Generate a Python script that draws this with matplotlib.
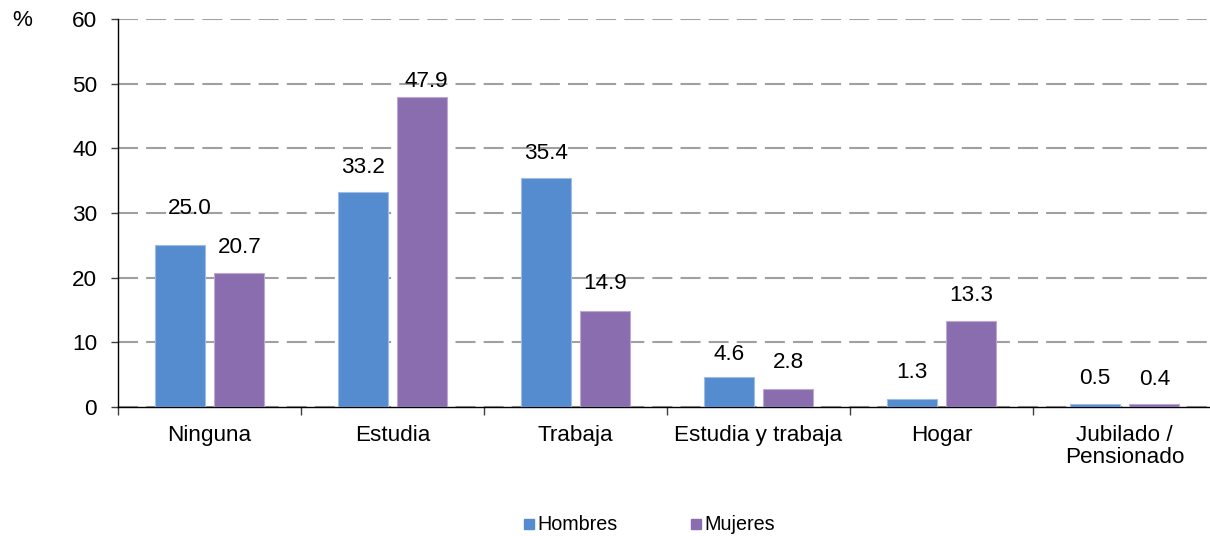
import numpy as np
import matplotlib
matplotlib.use('Agg')
import matplotlib.pyplot as plt
from matplotlib.lines import Line2D

plt.rcParams['font.family'] = ['Liberation Sans', 'DejaVu Sans']

# datos
categorias = ['Ninguna', 'Estudia', 'Trabaja', 'Estudia y trabaja', 'Hogar',
              'Jubilado /\nPensionado']
hombres = [25.0, 33.2, 35.4, 4.6, 1.3, 0.5]
mujeres = [20.7, 47.9, 14.9, 2.8, 13.3, 0.4]
y_ticks = [0, 10, 20, 30, 40, 50, 60]

# desplazamiento de las etiquetas (pixeles), como en el original
off_h = [(10, 37), (0, 25), (0, 25), (0, 23), (0, 26), (0, 25)]
off_m = [(0, 26), (4, 16), (0, 27), (0, 26), (0, 25), (0, 25)]

col_h = '#558BCF'
col_m = '#8A6DAE'
fs = 16.2

fig = plt.figure(figsize=(12.10, 5.36), dpi=100)
ax = fig.add_axes([118 / 1210, 1 - 407 / 536, 1098 / 1210, 388 / 536])

x = np.arange(len(categorias))
w = 0.273
ax.bar(x - 0.163, hombres, w, color=col_h, edgecolor='#9DBDE6', linewidth=0.8, zorder=3)
ax.bar(x + 0.163, mujeres, w, color=col_m, edgecolor='#BBA8D3', linewidth=0.8, zorder=3)

for i in range(len(x)):
    ax.annotate(f'{hombres[i]:.1f}', (x[i] - 0.163, hombres[i]), xytext=off_h[i],
                textcoords='offset pixels', ha='center', va='center', fontsize=fs, zorder=4)
    ax.annotate(f'{mujeres[i]:.1f}', (x[i] + 0.163, mujeres[i]), xytext=off_m[i],
                textcoords='offset pixels', ha='center', va='center', fontsize=fs, zorder=4)

ax.set_xlim(-0.5, len(x) - 0.5)
ax.set_ylim(0, 60)
ax.set_yticks(y_ticks)
ax.yaxis.grid(True, color='#A0A0A0', linewidth=1.5, linestyle=(0, (9.6, 3.9)), zorder=0)
ax.set_axisbelow(True)

ax.set_xticks(x)
ax.set_xticklabels(categorias, fontsize=fs, linespacing=1.05)
ax.set_xticks(np.arange(len(x) + 1) - 0.5, minor=True)
ax.tick_params(axis='x', which='major', length=0, pad=13)
ax.tick_params(axis='x', which='minor', length=6, width=1, color='#404040', direction='out')
ax.tick_params(axis='y', length=5, width=1, color='#404040', pad=10, labelsize=fs)

for s in ['top', 'right']:
    ax.spines[s].set_visible(False)
ax.spines['left'].set_linewidth(1)
ax.spines['bottom'].set_linewidth(1)

fig.text(22 / 1210, 1 - 20 / 536, '%', fontsize=fs, ha='center', va='center')

handles = [Line2D([], [], marker='s', linestyle='', color=col_h, markersize=7),
           Line2D([], [], marker='s', linestyle='', color=col_m, markersize=7)]
fig.legend(handles, ['Hombres', 'Mujeres'], loc='center', ncol=2,
           bbox_to_anchor=(649 / 1210, 1 - 525 / 536), frameon=False, fontsize=14.2,
           handlelength=0.6, handletextpad=0.1, columnspacing=3.7)

fig.savefig('out.png', dpi=100)
